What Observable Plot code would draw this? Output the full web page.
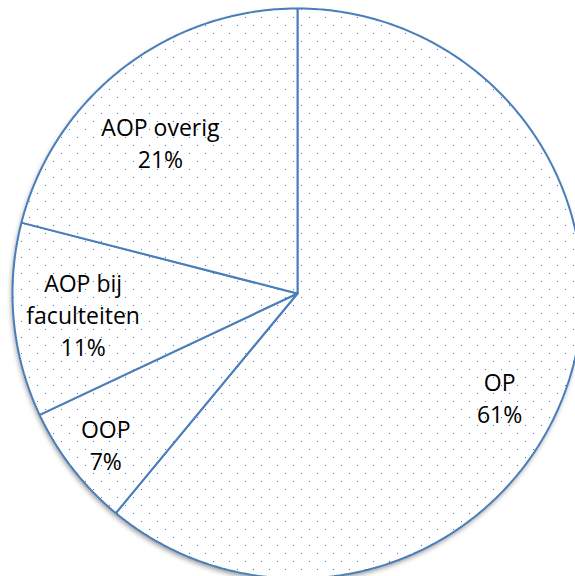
<!DOCTYPE html>
<html><head><meta charset="utf-8">
<script src="https://cdn.jsdelivr.net/npm/d3@7"></script>
<script src="https://cdn.jsdelivr.net/npm/@observablehq/plot@0.6"></script>
<style>body{margin:0;background:#fff;} #chart svg{display:block;}</style>
</head><body><div id="chart"></div>
<script>
// ---- data ----
const categories = ["OP", "OOP", "AOP bij faculteiten", "AOP overig"];
const shares = [61, 7, 11, 21];

// ---- layout (label placement, kept apart from data) ----
const labelRadius = [0.794, 0.856, 0.757, 0.72];
const labelNudgeDeg = [7.2, -0.2, 0.2, -4.3];
const blue = "#4a7ebb";

const rows = categories.map((name, i) => ({name, value: shares[i]}));
const total = d3.sum(shares);
const arcs = d3.pie().sort(null).value(d => d.value)(rows);
const polar = (a, r) => ({x: r * Math.sin(a), y: r * Math.cos(a)});

const slicePts = [];
for (const s of arcs) {
  const n = Math.max(2, Math.ceil((s.endAngle - s.startAngle) / (Math.PI / 360)));
  slicePts.push({slice: s.data.name, x: 0, y: 0});
  for (let k = 0; k <= n; k++) {
    const a = s.startAngle + (s.endAngle - s.startAngle) * k / n;
    slicePts.push({slice: s.data.name, ...polar(a, 1)});
  }
  slicePts.push({slice: s.data.name, x: 0, y: 0});
}
const circlePts = d3.range(0, 721).map(k => polar(k * Math.PI / 360, 1));

const labels = arcs.map((s, i) => {
  const a = (s.startAngle + s.endAngle) / 2 + labelNudgeDeg[i] * Math.PI / 180;
  return {...polar(a, labelRadius[i]), text: `${s.data.name}\n${Math.round(s.data.value / total * 100)}%`};
});

const chart = Plot.plot({
  width: 575,
  height: 576,
  margin: 0,
  x: {domain: [-1, 1], range: [12.5, 582.5], axis: null},
  y: {domain: [-1, 1], range: [578.5, 8.5], axis: null},
  style: {background: "white", fontFamily: "'Open Sans', sans-serif"},
  marks: [
    Plot.line(circlePts, {x: "x", y: "y", fill: "white", stroke: "none"}),
    Plot.line(slicePts, {x: "x", y: "y", z: "slice", fill: "url(#dots)", stroke: blue, strokeWidth: 2, strokeLinejoin: "miter", curve: "linear"}),
    Plot.text(labels, {x: "x", y: "y", text: "text", lineWidth: 6, lineHeight: 1.39, fontSize: 23, fill: "black", fontFamily: "'Open Sans', sans-serif"})
  ]
});

// put the line marks in plain pixel space (offset folded into the ranges) so the dot texture is pixel-aligned
const lineGroups = chart.querySelectorAll("g[aria-label='line']");
lineGroups.forEach(g => g.removeAttribute("transform"));
const shadowG = lineGroups[0];

const ns = "http://www.w3.org/2000/svg";
const defs = document.createElementNS(ns, "defs");
defs.innerHTML = `<pattern id="dots" patternUnits="userSpaceOnUse" x="0" y="0" width="16" height="16">
  <rect width="16" height="16" fill="white"/>
  <rect x="5" y="1" width="1" height="1" fill="${blue}"/>
  <rect x="13" y="9" width="1" height="1" fill="${blue}"/>
</pattern>
<filter id="soft" x="-10%" y="-10%" width="120%" height="120%">
  <feDropShadow dx="-1" dy="3" stdDeviation="2.5" flood-color="#000" flood-opacity="0.4"/>
</filter>`;
chart.insertBefore(defs, chart.firstChild);
if (shadowG) shadowG.setAttribute("filter", "url(#soft)");
document.getElementById("chart").appendChild(chart);
</script>
</body></html>
